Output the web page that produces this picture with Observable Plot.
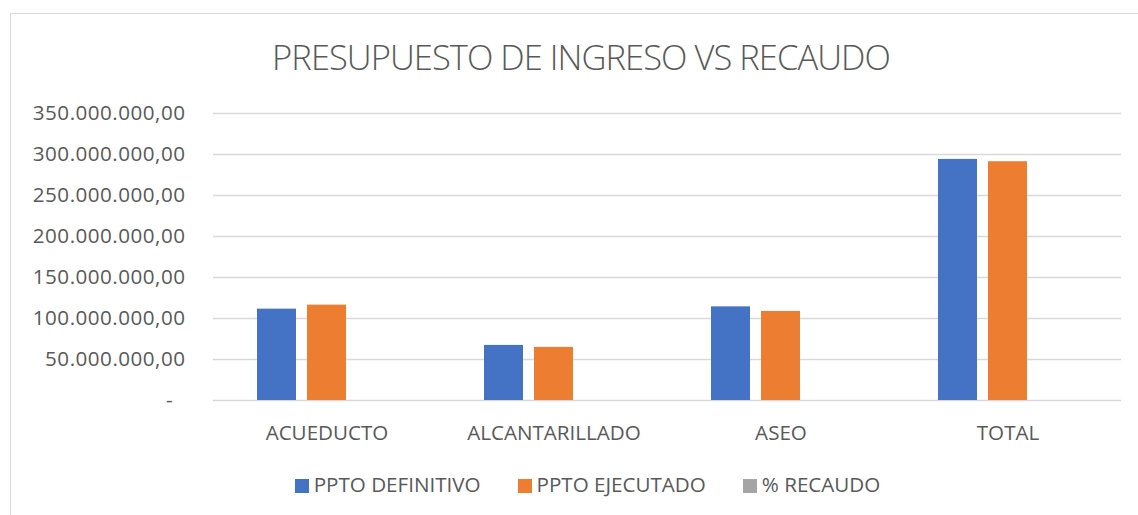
<!DOCTYPE html>
<html><head><meta charset="utf-8">
<script src="https://cdn.jsdelivr.net/npm/d3@7"></script>
<script src="https://cdn.jsdelivr.net/npm/@observablehq/plot@0.6"></script>
<style>
html,body{margin:0;padding:0;background:#fff;}
#wrap{position:relative;width:1138px;height:515px;overflow:hidden;font-family:"Open Sans",sans-serif;color:#595959;}
#chart{position:absolute;left:0;top:0;}
#title{position:absolute;left:0;top:40px;width:1162px;text-align:center;font-size:34.5px;line-height:1;letter-spacing:-0.95px;white-space:nowrap;font-weight:300;}
#legend{position:absolute;left:0;top:473.7px;width:1175px;display:flex;justify-content:center;gap:37px;font-size:20.6px;line-height:1;white-space:nowrap;}
.item{display:flex;align-items:flex-start;}
.sw{width:14px;height:14px;margin-top:5.3px;margin-right:5px;}
#frame{position:absolute;left:10px;top:13px;width:1300px;height:700px;border:1px solid #d9d9d9;box-sizing:border-box;pointer-events:none;}
g[aria-label="y-axis tick label"] text{letter-spacing:0.5px;}
</style></head>
<body>
<div id="wrap">
<div id="chart"></div>
<div id="title">PRESUPUESTO DE INGRESO VS RECAUDO</div>
<div id="legend"></div>
<div id="frame"></div>
</div>
<script>
const categories = ["ACUEDUCTO", "ALCANTARILLADO", "ASEO", "TOTAL"];
const series = ["PPTO DEFINITIVO", "PPTO EJECUTADO", "% RECAUDO"];
const pptoDefinitivo = [111400000, 67200000, 114200000, 294000000];
const pptoEjecutado = [116300000, 64800000, 108600000, 291200000];
const recaudo = [1.04, 0.96, 0.95, 0.99];
const yTicks = [0, 50000000, 100000000, 150000000, 200000000, 250000000, 300000000, 350000000];
const colors = ["#4472C4", "#ED7D31", "#A5A5A5"];

const seriesValues = [pptoDefinitivo, pptoEjecutado, recaudo];
const table = categories.flatMap((c, i) => series.map((s, j) => ({category: c, series: s, value: seriesValues[j][i]})));

const loc = d3.formatLocale({decimal: ",", thousands: ".", grouping: [3], currency: ["", ""]});
const fmt = loc.format(",.2f");
const tickFormat = d => d === 0 ? "-\u2007" : fmt(d);

const chart = Plot.plot({
  width: 1138,
  height: 515,
  marginTop: 113,
  marginBottom: 115,
  marginLeft: 212,
  marginRight: 17,
  style: {fontSize: "20.6px", fontFamily: "Open Sans", color: "#595959", background: "transparent", overflow: "visible"},
  fx: {domain: categories, padding: 0, label: null, tickSize: 0, tickPadding: 25},
  x: {domain: series, axis: null, paddingInner: 0.218, paddingOuter: 0.857},
  y: {domain: [0, 350000000], ticks: yTicks, tickFormat, tickSize: 0, tickPadding: 28, label: null},
  color: {domain: series, range: colors},
  marks: [
    Plot.ruleY(yTicks, {stroke: "#d9d9d9", strokeWidth: 1.3}),
    Plot.barY(table, {fx: "category", x: "series", y: "value", fill: "series"})
  ]
});
document.getElementById("chart").appendChild(chart);

const legend = document.getElementById("legend");
series.forEach((s, i) => {
  const item = document.createElement("div");
  item.className = "item";
  const sw = document.createElement("div");
  sw.className = "sw";
  sw.style.background = colors[i];
  const t = document.createElement("span");
  t.textContent = s;
  item.appendChild(sw);
  item.appendChild(t);
  legend.appendChild(item);
});
</script>
</body></html>
